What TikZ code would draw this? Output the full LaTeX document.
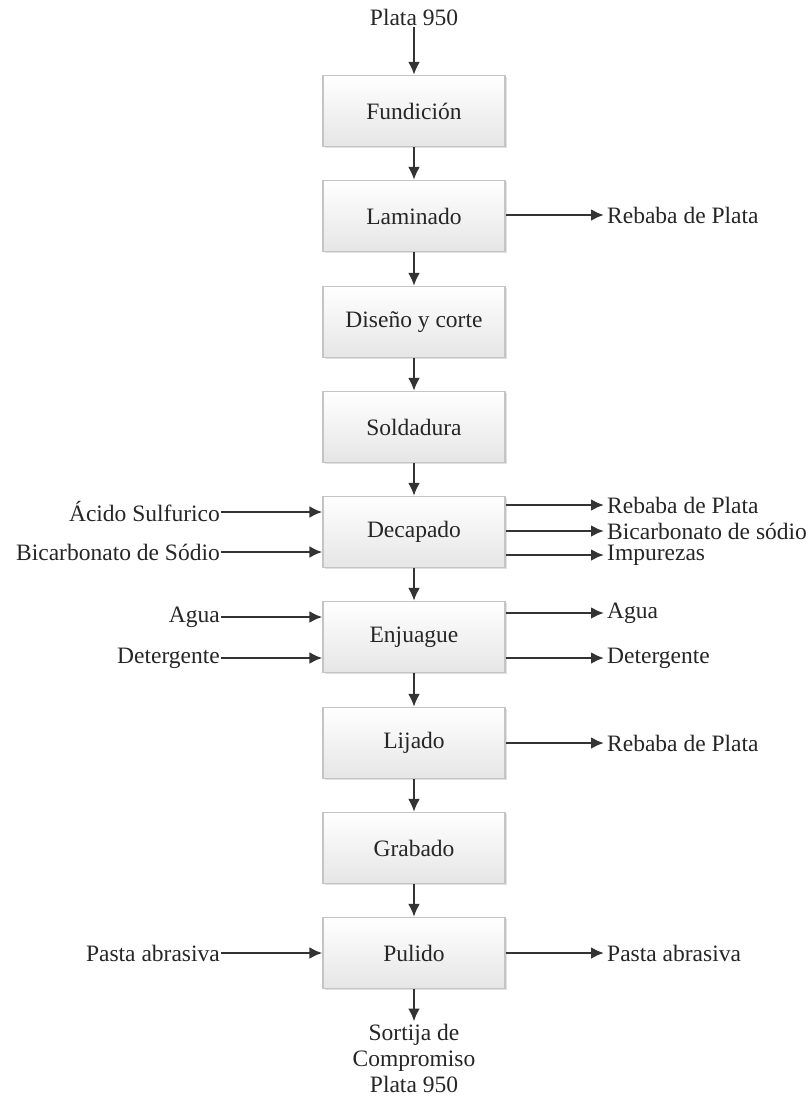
\documentclass[tikz,border=0pt]{standalone}
\usepackage{fontspec}
\setmainfont{Liberation Serif}
\usetikzlibrary{arrows.meta,shadows,calc}
\definecolor{txt}{HTML}{262626}
\definecolor{ln}{HTML}{333333}
\definecolor{bd}{HTML}{C4C4C4}
\begin{document}
\begin{tikzpicture}[x=1pt,y=-1pt,
  font=\fontsize{23.5}{26}\selectfont, text=txt,
  proc/.style={draw=bd, line width=1.2pt, top color=white, bottom color=black!10,
    minimum width=182pt, minimum height=71pt, inner sep=0pt,
    drop shadow={shadow xshift=1.5pt, shadow yshift=-1.5pt, fill=black!30, opacity=0.4}},
  lbl/.style={inner sep=0pt},
  flow/.style={draw=ln, line width=2.7pt, -{Latex[length=13pt,width=12pt]}}]
\useasboundingbox (0,0) rectangle (810,1104);
\fill[white] (0,0) rectangle (810,1104);
% process boxes
\node[proc] (fun) at (414,111) {Fundición};
\node[proc] (lam) at (414,216) {Laminado};
\node[proc] (dis) at (414,322) {Diseño y corte};
\node[proc] (sol) at (414,427) {Soldadura};
\node[proc] (dec) at (414,532) {Decapado};
\node[proc] (enj) at (414,637) {Enjuague};
\node[proc] (lij) at (414,743) {Lijado};
\node[proc] (gra) at (414,848) {Grabado};
\node[proc] (pul) at (414,953) {Pulido};
% start / end
\node[lbl, inner sep=2pt] (in) at (414,17) {Plata 950};
\node[lbl, inner sep=2pt, align=center] (out) at (414,1058) {Sortija de\\Compromiso\\Plata 950};
% main flow
\draw[flow] (in) -- (fun);
\draw[flow] (fun) -- (lam);
\draw[flow] (lam) -- (dis);
\draw[flow] (dis) -- (sol);
\draw[flow] (sol) -- (dec);
\draw[flow] (dec) -- (enj);
\draw[flow] (enj) -- (lij);
\draw[flow] (lij) -- (gra);
\draw[flow] (gra) -- (pul);
\draw[flow] (pul) -- (out);
% left inputs
\node[lbl, anchor=east] (acs) at (220,512) {Ácido Sulfurico};
\node[lbl, anchor=east] (bic) at (220,552) {Bicarbonato de Sódio};
\node[lbl, anchor=east] (agi) at (220,617) {Agua};
\node[lbl, anchor=east] (dti) at (220,658) {Detergente};
\node[lbl, anchor=east] (pai) at (220,953) {Pasta abrasiva};
\draw[flow] ([xshift=1pt]acs.east) -- (acs.east -| dec.west);
\draw[flow] ([xshift=1pt]bic.east) -- (bic.east -| dec.west);
\draw[flow] ([xshift=1pt]agi.east) -- (agi.east -| enj.west);
\draw[flow] ([xshift=1pt]dti.east) -- (dti.east -| enj.west);
\draw[flow] ([xshift=1pt]pai.east) -- (pai.east -| pul.west);
% right outputs
\node[lbl, anchor=west] (rb1) at (607,215) {Rebaba de Plata};
\node[lbl, anchor=west] (rb2) at (607,505) {Rebaba de Plata};
\node[lbl, anchor=west] (bco) at (607,531) {Bicarbonato de sódio};
\node[lbl, anchor=west] (imp) at (607,555) {Impurezas};
\node[lbl, anchor=west] (ago) at (607,613) {Agua};
\node[lbl, anchor=west] (dto) at (607,658) {Detergente};
\node[lbl, anchor=west] (rb3) at (607,743) {Rebaba de Plata};
\node[lbl, anchor=west] (pao) at (607,953) {Pasta abrasiva};
\draw[flow] (rb1.west -| lam.east) -- ([xshift=-3pt]rb1.west);
\draw[flow] (rb2.west -| dec.east) -- ([xshift=-3pt]rb2.west);
\draw[flow] (bco.west -| dec.east) -- ([xshift=-3pt]bco.west);
\draw[flow] (imp.west -| dec.east) -- ([xshift=-3pt]imp.west);
\draw[flow] (ago.west -| enj.east) -- ([xshift=-3pt]ago.west);
\draw[flow] (dto.west -| enj.east) -- ([xshift=-3pt]dto.west);
\draw[flow] (rb3.west -| lij.east) -- ([xshift=-3pt]rb3.west);
\draw[flow] (pao.west -| pul.east) -- ([xshift=-3pt]pao.west);
\end{tikzpicture}
\end{document}
